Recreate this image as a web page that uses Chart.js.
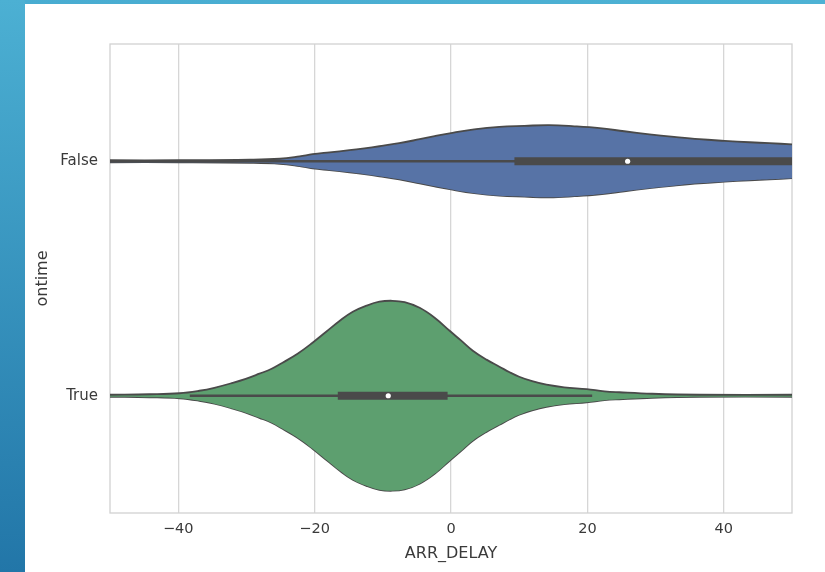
<!DOCTYPE html>
<html><head><meta charset="utf-8">
<script src="https://cdn.jsdelivr.net/npm/chart.js@4"></script>
<style>
html,body{margin:0;padding:0;width:825px;height:572px;overflow:hidden;background:#fff}
#frameTop{position:absolute;left:0;top:0;width:825px;height:4px;background:linear-gradient(90deg,#48acd1,#4db2d4)}
#frameLeft{position:absolute;left:0;top:0;width:25px;height:572px;background:linear-gradient(180deg,#4cb0d3,#2276a8)}
#wrap{position:absolute;left:25px;top:4px;width:800px;height:568px}
</style></head><body>
<div id="frameTop"></div><div id="frameLeft"></div>
<div id="wrap"><canvas id="c" width="800" height="568"></canvas></div>
<script>
// ---- data ----
const categories = ['False', 'True'];
const xTicks = [-40, -20, 0, 20, 40];

// violin outline: delay value -> half width (category units)
const falseDelay = [-50, -39.8, -29.5, -25.1, -22.2, -20.3, -17.8, -14.9, -12.7, -10.5, -7.6, -4.6, -2.4, -0.2, 3.4, 7.1, 10.8, 14.4, 18.1, 21.8, 25.4, 29.1, 32.7, 36.4, 40.1, 43.8, 46.7, 50];
const falseWidth = [0.0043, 0.0043, 0.0064, 0.0107, 0.021, 0.030, 0.038, 0.047, 0.055, 0.064, 0.077, 0.094, 0.107, 0.119, 0.136, 0.147, 0.151, 0.154, 0.149, 0.141, 0.128, 0.115, 0.104, 0.094, 0.087, 0.081, 0.077, 0.072];
const trueDelay = [-50, -44.2, -39.8, -36.9, -34.7, -32.0, -30.1, -28.1, -26.3, -24.7, -22.5, -20.3, -18.3, -16.3, -14.4, -12.4, -10.5, -8.6, -6.8, -4.6, -2.4, -0.2, 1.5, 3.2, 5.2, 7.1, 8.6, 10.0, 11.9, 14.0, 16.6, 19.9, 22.5, 24.7, 29.5, 36.4, 50];
const trueWidth = [0.0043, 0.0064, 0.0107, 0.0213, 0.034, 0.055, 0.072, 0.094, 0.115, 0.141, 0.179, 0.226, 0.273, 0.320, 0.358, 0.384, 0.401, 0.405, 0.399, 0.375, 0.333, 0.277, 0.235, 0.192, 0.154, 0.124, 0.100, 0.081, 0.062, 0.047, 0.036, 0.028, 0.019, 0.015, 0.0085, 0.0043, 0.0043];

// inner box: [whisker low, q1, median, q3, whisker high]
const falseBox = [-60, 9.3, 25.9, 60, 60];
const trueBox = [-38.3, -16.6, -9.2, -0.5, 20.7];

const violinColors = ['#5773a6', '#5d9f6f'];
const lineGray = '#4a4a4a';
const FONT = 'DejaVu Sans';

function violinSets(cat, delays, widths, color) {
  const upper = delays.map((d, i) => ({x: d, y: cat - widths[i]}));
  const lower = delays.map((d, i) => ({x: d, y: cat + widths[i]}));
  const common = {borderColor: lineGray, borderWidth: 1.8, pointRadius: 0, tension: 0.4, order: 3};
  return [
    Object.assign({data: upper, fill: '+1', backgroundColor: color}, common),
    Object.assign({data: lower, fill: false}, common)
  ];
}
function boxSets(cat, b) {
  return [
    {data: [{x: b[0], y: cat}, {x: b[4], y: cat}], borderColor: lineGray, borderWidth: 2.3, pointRadius: 0, fill: false, order: 2},
    {data: [{x: b[1], y: cat}, {x: b[3], y: cat}], borderColor: lineGray, borderWidth: 8, borderCapStyle: 'butt', pointRadius: 0, fill: false, order: 1},
    {data: [{x: b[2], y: cat}], showLine: false, pointRadius: 2.6, pointBackgroundColor: '#ffffff', pointBorderWidth: 0, order: 0}
  ];
}

const datasets = [
  ...violinSets(0, falseDelay, falseWidth, violinColors[0]),
  ...violinSets(1, trueDelay, trueWidth, violinColors[1]),
  ...boxSets(0, falseBox),
  ...boxSets(1, trueBox)
];

const framePlugin = {
  id: 'frame',
  beforeDatasetsDraw(chart) {
    const {ctx, chartArea: a} = chart;
    ctx.save();
    ctx.strokeStyle = '#d2d2d2';
    ctx.lineWidth = 1.3;
    ctx.strokeRect(a.left, a.top, a.right - a.left, a.bottom - a.top);
    ctx.restore();
  }
};

new Chart(document.getElementById('c'), {
  type: 'line',
  data: {datasets},
  plugins: [framePlugin],
  options: {
    responsive: false,
    devicePixelRatio: 1,
    animation: false,
    layout: {padding: {top: 40, right: 33, bottom: 0, left: 0}},
    plugins: {legend: {display: false}, tooltip: {enabled: false}},
    scales: {
      x: {
        type: 'linear', min: -50, max: 50,
        afterBuildTicks: s => { s.ticks = xTicks.map(v => ({value: v})); },
        afterFit: s => { s.height = 59; },
        ticks: {callback: v => String(v).replace('-', '\u2212'), font: {family: FONT, size: 14.5}, color: '#3a3a3a', padding: 8, maxRotation: 0},
        grid: {color: '#d6d6d6', lineWidth: 1.3, drawTicks: false},
        border: {display: false},
        title: {display: true, text: 'ARR_DELAY', font: {family: FONT, size: 16}, color: '#3a3a3a', padding: {top: 0, bottom: 9}}
      },
      y: {
        type: 'linear', min: -0.5, max: 1.5, reverse: true,
        afterBuildTicks: s => { s.ticks = categories.map((c, i) => ({value: i})); },
        afterFit: s => { s.width = 85; },
        ticks: {callback: v => categories[v] ?? '', font: {family: FONT, size: 15}, color: '#3a3a3a', padding: 12},
        grid: {display: false, drawTicks: false},
        border: {display: false},
        title: {display: true, text: 'ontime', font: {family: FONT, size: 16}, color: '#3a3a3a', padding: {top: 8, bottom: 0}}
      }
    }
  }
});
</script>
</body></html>
